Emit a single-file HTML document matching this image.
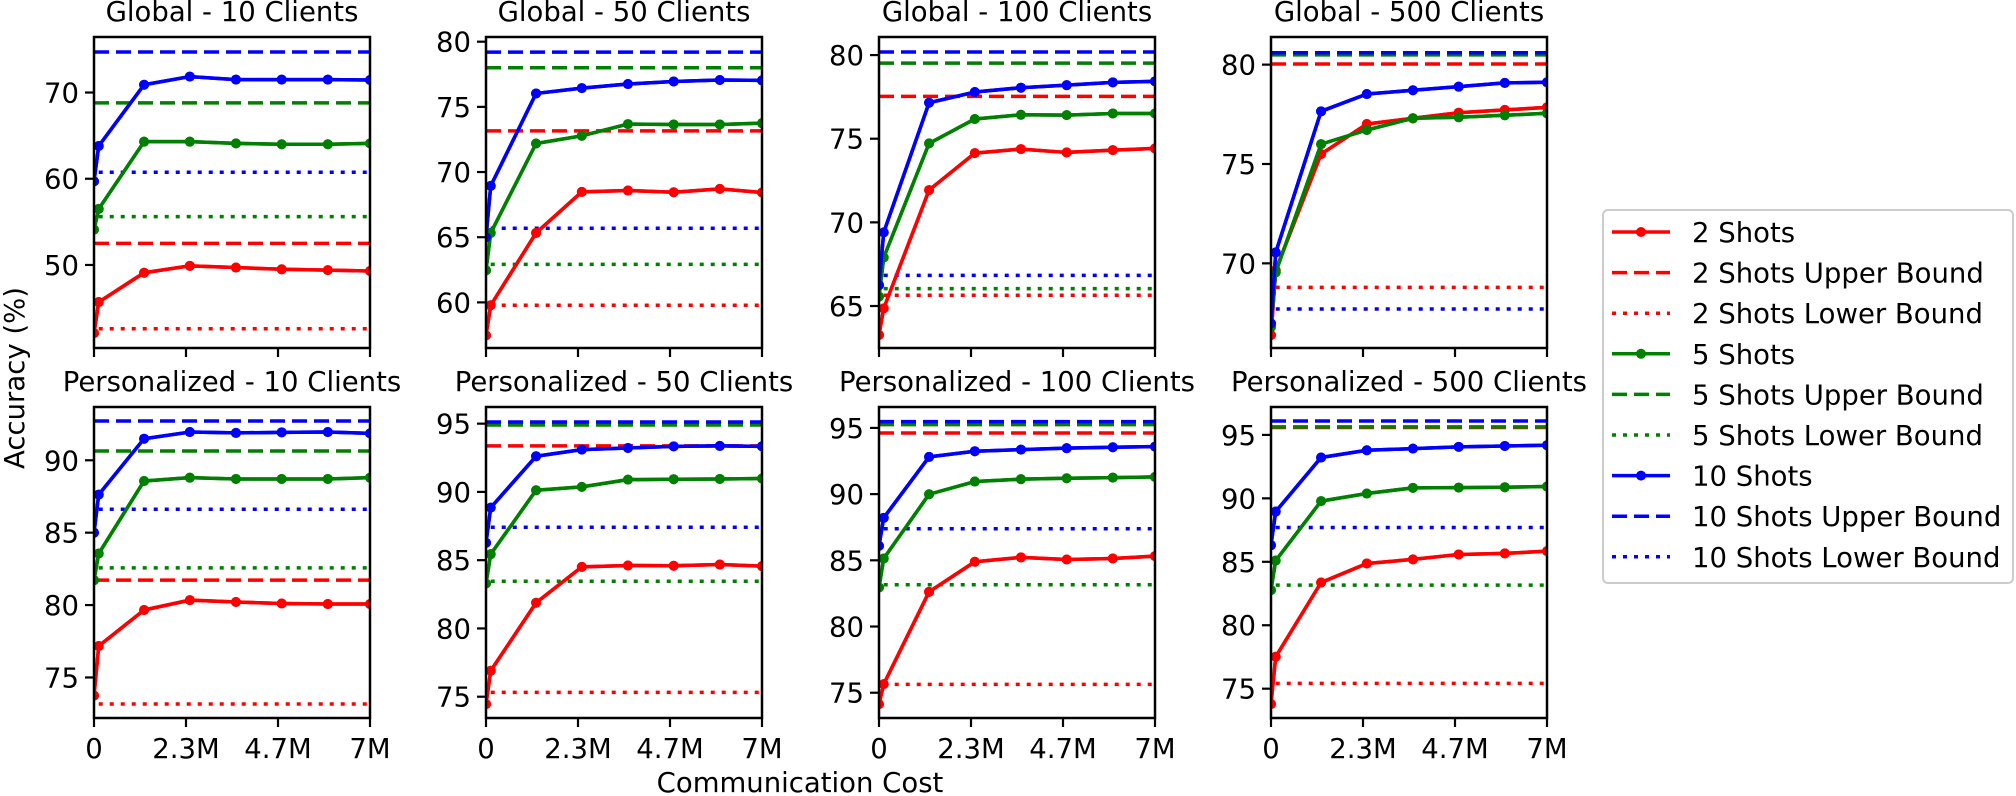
<!DOCTYPE html>
<html><head><meta charset="utf-8">
<style>
html,body{margin:0;padding:0;background:#fff;}
svg{display:block;font-family:"DejaVu Sans","Liberation Sans",sans-serif;}
</style></head>
<body>
<svg id="fig" width="2016" height="796" viewBox="0 0 2016 796" xmlns="http://www.w3.org/2000/svg"></svg>
<script>
// ---- data ----
const xValues = [0, 0.12, 1.27, 2.43, 3.6, 4.76, 5.93, 7.0];
const xTicks = [0, 7/3, 14/3, 7];
const xTickLabels = ["0", "2.3M", "4.7M", "7M"];
const seriesNames = ["2 Shots", "5 Shots", "10 Shots"];
const seriesColors = ["#ff0000", "#008000", "#0000ff"];
const panelTitles = ["Global - 10 Clients","Global - 50 Clients","Global - 100 Clients","Global - 500 Clients",
  "Personalized - 10 Clients","Personalized - 50 Clients","Personalized - 100 Clients","Personalized - 500 Clients"];

const g10_2 = [42.1, 45.7, 49.1, 49.9, 49.7, 49.5, 49.4, 49.3];
const g10_5 = [54.1, 56.5, 64.3, 64.3, 64.1, 64.0, 64.0, 64.1];
const g10_10 = [59.7, 63.8, 70.9, 71.85, 71.5, 71.5, 71.5, 71.45];
const g10_upper = [52.5, 68.8, 74.7];
const g10_lower = [42.6, 55.6, 60.75];

const g50_2 = [57.47, 59.78, 65.33, 68.48, 68.58, 68.45, 68.71, 68.43];
const g50_5 = [62.46, 65.33, 72.19, 72.78, 73.68, 73.65, 73.65, 73.75];
const g50_10 = [65.0, 68.94, 76.03, 76.44, 76.75, 76.95, 77.06, 77.03];
const g50_upper = [73.16, 78.0, 79.2];
const g50_lower = [59.78, 62.92, 65.69];

const g100_2 = [63.27, 64.86, 71.93, 74.14, 74.38, 74.18, 74.32, 74.42];
const g100_5 = [65.56, 67.9, 74.72, 76.18, 76.43, 76.41, 76.51, 76.51];
const g100_10 = [66.25, 69.4, 77.15, 77.79, 78.05, 78.2, 78.37, 78.43];
const g100_upper = [77.53, 79.52, 80.18];
const g100_lower = [65.64, 66.04, 66.83];

const g500_2 = [66.39, 69.66, 75.5, 77.01, 77.3, 77.58, 77.72, 77.85];
const g500_5 = [66.8, 69.55, 76.0, 76.71, 77.3, 77.35, 77.45, 77.55];
const g500_10 = [66.98, 70.55, 77.65, 78.52, 78.71, 78.89, 79.08, 79.11];
const g500_upper = [80.03, 80.49, 80.6];
const g500_lower = [68.79, 65.0, 67.7];

const p10_2 = [73.75, 77.17, 79.66, 80.34, 80.21, 80.11, 80.07, 80.07];
const p10_5 = [81.72, 83.56, 88.57, 88.8, 88.71, 88.71, 88.71, 88.8];
const p10_10 = [85.0, 87.63, 91.49, 91.95, 91.89, 91.93, 91.95, 91.86];
const p10_upper = [81.72, 90.64, 92.71];
const p10_lower = [73.17, 82.57, 86.62];

const p50_2 = [74.46, 76.9, 81.88, 84.51, 84.61, 84.59, 84.68, 84.56];
const p50_5 = [83.29, 85.44, 90.12, 90.37, 90.9, 90.93, 90.95, 90.98];
const p50_10 = [86.27, 88.85, 92.61, 93.1, 93.22, 93.34, 93.37, 93.34];
const p50_upper = [93.37, 94.9, 95.12];
const p50_lower = [75.32, 83.46, 87.41];

const p100_2 = [74.14, 75.65, 82.62, 84.89, 85.22, 85.06, 85.14, 85.32];
const p100_5 = [82.95, 85.14, 89.99, 90.95, 91.13, 91.2, 91.25, 91.3];
const p100_10 = [86.09, 88.21, 92.81, 93.24, 93.36, 93.47, 93.54, 93.59];
const p100_upper = [94.62, 95.25, 95.48];
const p100_lower = [75.63, 83.15, 87.38];

const p500_2 = [73.79, 77.52, 83.37, 84.87, 85.19, 85.58, 85.66, 85.84];
const p500_5 = [82.77, 85.1, 89.78, 90.38, 90.83, 90.85, 90.88, 90.93];
const p500_10 = [86.31, 88.96, 93.22, 93.79, 93.92, 94.06, 94.13, 94.19];
const p500_upper = [95.58, 95.63, 96.1];
const p500_lower = [75.42, 83.16, 87.7];

const yLimits = [[40.37,76.44],[56.5,80.36],[62.49,81.08],[65.74,81.39],[72.2,93.68],[73.44,96.22],[73.09,96.58],[72.69,97.2]];
const yTicks = [[50,60,70],[60,65,70,75,80],[65,70,75,80],[70,75,80],[75,80,85,90],[75,80,85,90,95],[75,80,85,90,95],[75,80,85,90,95]];

const panelSeries = [[g10_2,g10_5,g10_10],[g50_2,g50_5,g50_10],[g100_2,g100_5,g100_10],[g500_2,g500_5,g500_10],
  [p10_2,p10_5,p10_10],[p50_2,p50_5,p50_10],[p100_2,p100_5,p100_10],[p500_2,p500_5,p500_10]];
const panelUpper = [g10_upper,g50_upper,g100_upper,g500_upper,p10_upper,p50_upper,p100_upper,p500_upper];
const panelLower = [g10_lower,g50_lower,g100_lower,g500_lower,p10_lower,p50_lower,p100_lower,p500_lower];

// ---- layout ----
const NS = "http://www.w3.org/2000/svg";
const svg = document.getElementById("fig");
const colLeft = [94, 486, 879, 1271];
const axW = 276;
const rowTop = [37, 407];
const rowBottom = [348, 718];
const FS = 27.5;

function mk(tag, attrs, parent) {
  const e = document.createElementNS(NS, tag);
  for (const k in attrs) e.setAttribute(k, attrs[k]);
  (parent || svg).appendChild(e);
  return e;
}

const defs = mk("defs", {});

for (let p = 0; p < 8; p++) {
  const r = Math.floor(p / 4), c = p % 4;
  const L = colLeft[c], R = L + axW, T = rowTop[r], B = rowBottom[r];
  const [y0, y1] = yLimits[p];
  const xs = v => L + (v / 7) * (R - L);
  const ys = v => B - (v - y0) / (y1 - y0) * (B - T);

  const g = mk("g", {});
  
  

  const cp = mk("clipPath", { id: "clip" + p }, defs);
  mk("rect", { x: L, y: T, width: R - L, height: B - T }, cp);

  const title = mk("text", { x: (L + R) / 2, y: T - 16, "text-anchor": "middle", "font-size": FS, fill: "#000" }, g);
  title.textContent = panelTitles[p];
  
  

  const plot = mk("g", { "clip-path": "url(#clip" + p + ")" }, g);
  
  

  for (let s = 0; s < 3; s++) {
    const col = seriesColors[s];
    const data = panelSeries[p][s];
    const pts = data.map((v, i) => xs(xValues[i]) + "," + ys(v)).join(" ");
    const line = mk("polyline", { points: pts, fill: "none", stroke: col, "stroke-width": 3.5, "stroke-linejoin": "round" }, plot);
    
    
    data.forEach((v, i) => {
      const m = mk("circle", { cx: xs(xValues[i]), cy: ys(v), r: 5, fill: col }, plot);
      
      
    });
    const uy = ys(panelUpper[p][s]);
    const up = mk("line", { x1: xs(0), x2: xs(7), y1: uy, y2: uy, stroke: col, "stroke-width": 3.5, "stroke-dasharray": "15 7" }, plot);
    
    
    const ly = ys(panelLower[p][s]);
    const lo = mk("line", { x1: xs(0.12), x2: xs(7), y1: ly, y2: ly, stroke: col, "stroke-width": 3.5, "stroke-dasharray": "4 7" }, plot);
    
    
  }
  // Draw series lines again on top of the bound lines
  for (let s = 0; s < 3; s++) {
    const col = seriesColors[s];
    const data = panelSeries[p][s];
    const pts = data.map((v, i) => xs(xValues[i]) + "," + ys(v)).join(" ");
    const line = mk("polyline", { points: pts, fill: "none", stroke: col, "stroke-width": 3.5, "stroke-linejoin": "round" }, plot);
    
    
    data.forEach((v, i) => {
      const m = mk("circle", { cx: xs(xValues[i]), cy: ys(v), r: 5, fill: col }, plot);
      
      
    });
  }

  // spines
  const fr = mk("rect", { x: L, y: T, width: R - L, height: B - T, fill: "none", stroke: "#000", "stroke-width": 2.5 }, g);
  
  

  // y ticks
  yTicks[p].forEach(t => {
    const y = ys(t);
    const tk = mk("line", { x1: L - 9, x2: L, y1: y, y2: y, stroke: "#000", "stroke-width": 2.2 }, g);
    
    
    const lb = mk("text", { x: L - 15, y: y + 10, "text-anchor": "end", "font-size": FS, fill: "#000" }, g);
    lb.textContent = String(t);
    
    
  });
  // x ticks
  xTicks.forEach((t, i) => {
    const x = xs(t);
    const tk = mk("line", { x1: x, x2: x, y1: B, y2: B + 9, stroke: "#000", "stroke-width": 2.2 }, g);
    
    
    if (r === 1) {
      const lb = mk("text", { x: x, y: 758, "text-anchor": "middle", "font-size": FS, fill: "#000" }, g);
      lb.textContent = xTickLabels[i];
      
      
    }
  });
}

// axis titles
const xl = mk("text", { x: 800, y: 792, "text-anchor": "middle", "font-size": FS, fill: "#000" });
xl.textContent = "Communication Cost";


const yl = mk("text", { x: 0, y: 0, "text-anchor": "middle", "font-size": FS, fill: "#000", transform: "translate(24,378) rotate(-90)" });
yl.textContent = "Accuracy (%)";



// legend
const lg = mk("g", {});


const lbox = mk("rect", { x: 1603, y: 210, width: 410, height: 373, rx: 5, fill: "#fff", stroke: "#cccccc", "stroke-width": 2 }, lg);


const styles = ["solid", "dashed", "dotted"];
const suffix = ["", " Upper Bound", " Lower Bound"];
let row = 0;
for (let s = 0; s < 3; s++) {
  for (let k = 0; k < 3; k++) {
    const y = 232 + row * 40.6;
    const ent = mk("g", {}, lg);
    
    
    const a = { x1: 1612, x2: 1670, y1: y, y2: y, stroke: seriesColors[s], "stroke-width": 3.5 };
    if (styles[k] === "dashed") a["stroke-dasharray"] = "15 7";
    if (styles[k] === "dotted") a["stroke-dasharray"] = "4 7";
    mk("line", a, ent);
    if (k === 0) mk("circle", { cx: 1641, cy: y, r: 5, fill: seriesColors[s] }, ent);
    const t = mk("text", { x: 1692, y: y + 10, "font-size": FS, fill: "#000" }, ent);
    t.textContent = seriesNames[s] + suffix[k];
    row++;
  }
}
</script>
</body></html>
